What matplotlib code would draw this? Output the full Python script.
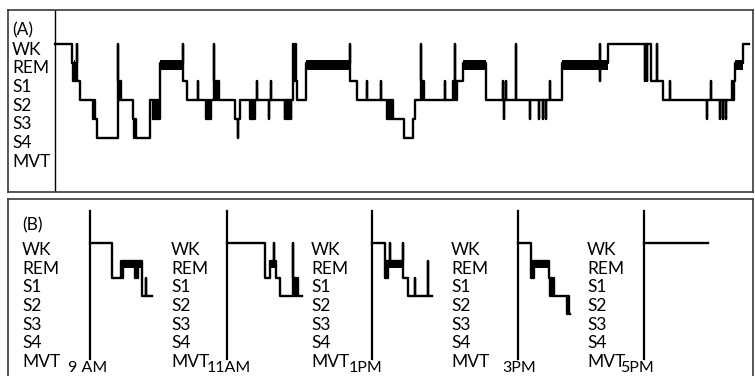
import numpy as np
import matplotlib.pyplot as plt

plt.rcParams['font.family'] = ['Lato', 'DejaVu Sans']

# sleep stages, top to bottom
stages = ['WK', 'REM', 'S1', 'S2', 'S3', 'S4', 'MVT']

# (A) nocturnal record: start of each epoch run and its stage index
night_t = [0, 17, 18, 19, 20, 21, 22, 22, 25, 38, 39, 40, 42,
           63, 63, 64, 65, 66, 78, 79, 80, 81, 95, 98, 99, 100, 101, 102, 103, 104,
           105, 128, 128, 132, 143, 143, 151, 152, 153, 154, 155, 156,
           159, 159, 160, 161, 162, 163, 164, 180, 183, 183, 185,
           195, 196, 197, 198, 199, 200, 202, 202, 214, 214, 216, 216,
           230, 230, 232, 232, 234, 234, 236, 236, 238, 239, 240, 241, 242,
           251, 295, 295, 302, 312, 312, 326, 326,
           332, 333, 334, 335, 336, 337, 338, 349, 358, 360,
           366, 366, 367, 368, 369, 390, 390, 398, 399, 400, 400, 401, 402,
           408, 431, 448, 448, 449, 449, 451, 451, 461, 461, 475, 475,
           484, 484, 488, 488, 491, 491, 495, 495,
           507, 545, 545, 545, 553, 590, 590, 592, 592, 596, 602, 602,
           608, 615, 615, 652, 652, 656, 656, 665, 665, 668, 668, 671, 671,
           677, 678, 679, 680, 688]
night_s = [0, 1, 2, 1, 2, 1, 0, 2, 3, 4, 3, 4, 5,
           0, 2, 3, 2, 3, 4, 5, 4, 5, 3, 4, 3, 4, 3, 4, 3, 4,
           1, 0, 2, 3, 2, 3, 4, 3, 4, 3, 4, 3,
           0, 2, 3, 2, 3, 2, 3, 4, 5, 4, 3,
           4, 3, 4, 3, 4, 3, 2, 3, 4, 3, 2, 3,
           4, 3, 4, 3, 4, 3, 4, 3, 0, 2, 0, 2, 3,
           1, 0, 2, 3, 2, 3, 2, 3,
           4, 3, 4, 3, 4, 3, 4, 5, 4, 3,
           0, 2, 3, 2, 3, 2, 3, 2, 3, 0, 2, 3, 2,
           1, 3, 2, 3, 4, 3, 2, 3, 0, 3, 4, 3,
           4, 3, 4, 3, 4, 3, 2, 3,
           1, 0, 2, 1, 0, 2, 0, 2, 0, 2, 0, 2,
           3, 2, 3, 4, 3, 2, 3, 4, 3, 4, 3, 4, 3,
           2, 3, 2, 1, 0]
night_end = 694

# (B) daytime naps
nap_names = ['9 AM', '11AM', '1PM', '3PM', '5PM']
nap_onsets = [82, 219, 364, 510, 636]
nap1_t = [0, 22, 31, 32, 33, 45, 46, 47, 48, 52, 56, 56]
nap1_s = [0, 2, 1, 2, 1, 2, 1, 2, 1, 3, 2, 3]
nap2_t = [0, 38, 43, 47, 47, 49, 53, 66, 66, 67, 68, 69, 70, 71]
nap2_s = [0, 2, 1, 0, 1, 2, 3, 0, 2, 3, 2, 3, 2, 3]
nap3_t = [0, 13, 14, 15, 16, 18, 18, 31, 31, 36, 43, 43, 56, 56]
nap3_s = [0, 2, 1, 2, 1, 0, 1, 0, 2, 3, 2, 3, 1, 3]
nap4_t = [0, 13, 14, 15, 16, 31, 32, 33, 34, 35, 36, 49, 50, 51]
nap4_s = [0, 2, 1, 2, 1, 2, 3, 2, 3, 2, 3, 4, 3, 4]
nap5_t = [0]
nap5_s = [0]
nap_ends = [62, 75, 60, 52, 64]


def draw_hyp(ax, t, s, t_end, x0=0, band=(0.87, 1.4)):
    xs = np.append(np.asarray(t, float), t_end) + x0
    ys = np.append(s, s[-1])
    ax.step(xs, ys, where='post', color='k', lw=1.7)
    # REM drawn as a heavy bar
    for i in range(len(t)):
        if s[i] == 1 and xs[i + 1] > xs[i]:
            ax.fill_between([xs[i], xs[i + 1]], band[0], band[1], color='k', lw=0)


W, H = 755, 376
def frame(l, t, r, b):
    return [l / W, 1 - b / H, (r - l) / W, (b - t) / H]

fig = plt.figure(figsize=(7.55, 3.76), dpi=100)
fs = 12.5

# ---- panel A
axA = fig.add_axes(frame(8, 10, 753, 192))
axA.set_xlim(-47, 698)
axA.set_ylim(7.914, -1.818)
axA.set_xticks([]); axA.set_yticks([])
for sp in axA.spines.values():
    sp.set_color('#3a3a3a'); sp.set_linewidth(1.2)
axA.axvline(0, color='k', lw=1.0)
draw_hyp(axA, night_t, night_s, night_end)
for k, name in enumerate(stages):
    axA.text(-43, k + 0.3, name, fontsize=fs, ha='left', va='center')
axA.text(-43, -0.75, '(A)', fontsize=fs, ha='left', va='center')

# ---- panel B
axB = fig.add_axes(frame(8, 199, 753, 376))
axB.set_xlim(0, 745)
axB.set_ylim(7.514, -2.486)
axB.set_xticks([]); axB.set_yticks([])
for sp in axB.spines.values():
    sp.set_color('#3a3a3a'); sp.set_linewidth(1.2)
axB.spines['bottom'].set_visible(False)

label_cols = [14, 163, 303, 443, 579]
for x in label_cols:
    for k, name in enumerate(stages):
        axB.text(x, 0.395 + 1.056 * k, name, fontsize=fs, ha='left', va='center')
axB.text(14, -1.0, '(B)', fontsize=fs, ha='left', va='center')

naps = [(nap1_t, nap1_s), (nap2_t, nap2_s), (nap3_t, nap3_s),
        (nap4_t, nap4_s), (nap5_t, nap5_s)]
name_shift = [-2, 2, -6, 1, -7]
for x0, (t, s), t_end, name, dx in zip(nap_onsets, naps, nap_ends, nap_names, name_shift):
    axB.plot([x0, x0], [-1.81, 6.55], color='k', lw=1.6)
    draw_hyp(axB, t, s, t_end, x0=x0, band=(0.95, 1.4))
    axB.text(x0 + dx, 7.45, name, fontsize=11.5, ha='center', va='bottom')

fig.savefig('out.png', dpi=100)
